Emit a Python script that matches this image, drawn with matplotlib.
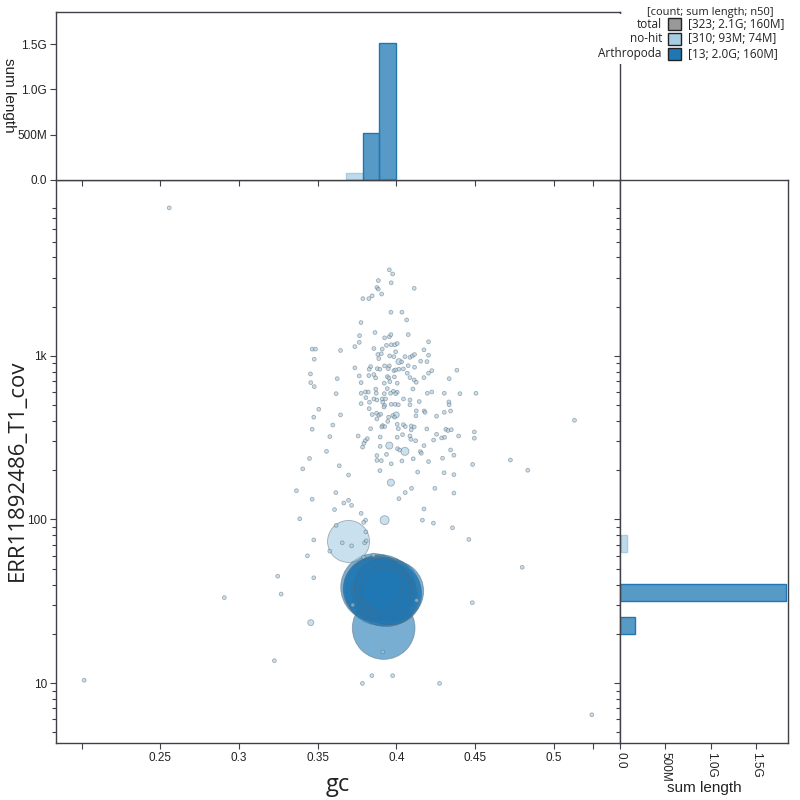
import numpy as np
import matplotlib
matplotlib.use("Agg")
import matplotlib.pyplot as plt
from matplotlib.ticker import FixedLocator, FixedFormatter, NullFormatter
from matplotlib.patches import Rectangle

plt.rcParams['font.family'] = ['Liberation Sans', 'DejaVu Sans']

# small no-hit contigs (drawn at minimum size)
nohit_gc = [
    0.3955, 0.3976, 0.3885, 0.3967, 0.3876, 0.3885, 0.4113, 0.3906, 0.3846, 0.3825,
    0.3787, 0.3965, 0.4035, 0.4065, 0.3775, 0.3864, 0.4075, 0.3766, 0.3925, 0.3955,
    0.3965, 0.3764, 0.3736, 0.4204, 0.3937, 0.3967, 0.3990, 0.4005, 0.3910, 0.3857,
    0.3904, 0.3465, 0.3486, 0.3645, 0.4175, 0.3995, 0.3882, 0.3957, 0.3984, 0.4054,
    0.4086, 0.4101, 0.4115, 0.4204, 0.3478, 0.4033, 0.3888, 0.4154, 0.4194, 0.4075,
    0.3736, 0.3836, 0.3827, 0.3878, 0.3895, 0.3925, 0.3955, 0.3948, 0.3984, 0.3995,
    0.4016, 0.4044, 0.4115, 0.4225, 0.4384, 0.3764, 0.3825, 0.3857, 0.3868, 0.3942,
    0.3952, 0.3987, 0.4069, 0.4086, 0.4175, 0.4204, 0.3454, 0.3624, 0.4335, 0.3456,
    0.3478, 0.3776, 0.3923, 0.3958, 0.4005, 0.4113, 0.4126, 0.3869, 0.3942, 0.3980,
    0.4005, 0.3995, 0.3963, 0.3923, 0.3872, 0.3804, 0.3821, 0.3776, 0.3617, 0.4105,
    0.4196, 0.4225, 0.4304, 0.4403, 0.4505, 0.3806, 0.3857, 0.3829, 0.3876, 0.3910,
    0.3931, 0.3913, 0.3925, 0.3921, 0.3967, 0.3992, 0.4012, 0.4045, 0.4086, 0.4086,
    0.4145, 0.3776, 0.3827, 0.3507, 0.4333, 0.4335, 0.4344, 0.4304, 0.4176, 0.4182,
    0.4126, 0.4124, 0.4255, 0.3846, 0.3874, 0.3888, 0.3900, 0.3876, 0.3950, 0.3977,
    0.3988, 0.3475, 0.3645, 0.5131, 0.3945, 0.4005, 0.4044, 0.4056, 0.4094, 0.4113,
    0.3912, 0.3925, 0.3907, 0.3596, 0.3465, 0.3836, 0.4012, 0.4094, 0.4193, 0.4314,
    0.4327, 0.4349, 0.4495, 0.3897, 0.3815, 0.3802, 0.3793, 0.3757, 0.3577, 0.4005,
    0.4039, 0.4086, 0.4092, 0.4122, 0.4255, 0.4236, 0.4287, 0.4306, 0.4395, 0.4495,
    0.3785, 0.3897, 0.4007, 0.4020, 0.4175, 0.4152, 0.4158, 0.3556, 0.4344, 0.4365,
    0.3876, 0.3937, 0.4107, 0.4293, 0.4724, 0.3448, 0.3876, 0.3904, 0.3967, 0.4035,
    0.4204, 0.3637, 0.4484, 0.3405, 0.3895, 0.4135, 0.4303, 0.4834, 0.3696, 0.4365,
    0.3365, 0.3465, 0.3615, 0.3666, 0.3696, 0.3715, 0.3607, 0.3776, 0.4056, 0.4096,
    0.4016, 0.4244, 0.4365, 0.4175, 0.3386, 0.3804, 0.3792, 0.4165, 0.4235, 0.4356,
    0.3617, 0.3475, 0.3656, 0.3715, 0.3798, 0.3808, 0.3806, 0.3577, 0.3435, 0.3791,
    0.3855, 0.4460, 0.4799, 0.3246, 0.3475, 0.3268, 0.4482, 0.3723, 0.4128, 0.3225,
    0.3914, 0.3844, 0.3976, 0.3784, 0.4274, 0.5241, 0.2557, 0.2017, 0.2907,
]
nohit_cov = [
    3360, 3170, 2890, 2800, 2620, 2560, 2590, 2390, 2330, 2240,
    2240, 1850, 1850, 1660, 1600, 1390, 1350, 1330, 1290, 1310,
    1350, 1210, 1140, 1220, 1160, 1170, 1170, 1190, 1100, 1110,
    1030, 1100, 1100, 1080, 1090, 1060, 1020, 1000, 990, 990,
    980, 1000, 1020, 1010, 955, 919, 963, 928, 923, 872,
    845, 860, 829, 836, 829, 869, 869, 836, 813, 821,
    829, 833, 853, 813, 818, 755, 758, 769, 734, 747,
    734, 744, 784, 737, 737, 784, 776, 726, 726, 687,
    649, 687, 681, 696, 681, 713, 690, 626, 631, 608,
    600, 588, 591, 588, 591, 602, 602, 591, 588, 628,
    591, 602, 591, 588, 591, 556, 546, 521, 538, 546,
    546, 521, 499, 487, 506, 506, 503, 546, 538, 503,
    526, 511, 476, 472, 523, 503, 461, 452, 461, 452,
    461, 430, 428, 438, 446, 434, 440, 412, 422, 432,
    422, 422, 436, 404, 398, 382, 380, 370, 373, 368,
    375, 370, 368, 378, 356, 359, 359, 353, 358, 356,
    350, 354, 343, 319, 312, 303, 292, 324, 321, 318,
    330, 324, 309, 303, 332, 306, 315, 318, 324, 314,
    277, 280, 271, 266, 283, 260, 254, 261, 266, 247,
    246, 250, 235, 237, 231, 236, 230, 229, 219, 228,
    226, 213, 217, 204, 199, 195, 193, 200, 187, 188,
    150, 133, 146, 126, 131, 122, 115, 109, 146, 155,
    134, 155, 145, 116, 101, 99, 96, 99, 95, 89,
    92, 75, 72, 69, 72, 74, 84, 64, 60, 59,
    60.5, 75.5, 51, 45, 44, 35, 31, 30, 32, 13.7,
    15.5, 11.1, 11.1, 9.95, 9.95, 6.4, 8040, 10.4, 33.3,
]

# larger no-hit contigs
nohit_big_gc = [0.3696, 0.3925, 0.4054, 0.3955, 0.3965, 0.3999, 0.4016, 0.3456]
nohit_big_cov = [73.4, 99, 261, 283, 168, 436, 923, 23.4]
nohit_big_len = [74e6, 3.4e6, 2.7e6, 2.1e6, 2.1e6, 1.5e6, 1.5e6, 1.5e6]

# Arthropoda contigs
arth_gc = [0.3900, 0.3935, 0.3860, 0.3870, 0.3919, 0.3965, 0.3980,
           0.3855, 0.3920, 0.3950, 0.3910, 0.3940, 0.3900]
arth_cov = [37, 36, 38.5, 37.5, 21.7, 35, 36.5, 38, 37, 34, 39, 36, 38]
arth_len = [210e6, 200e6, 190e6, 180e6, 165e6, 160e6, 155e6,
            150e6, 145e6, 140e6, 130e6, 95e6, 80e6]

# gc histogram (sum length per bin)
gc_bin_left = [0.3680, 0.3785, 0.3890]
gc_bin_width = 0.0105
gc_hist_nohit = [77e6, 4e6, 6e6]
gc_hist_arth = [0, 520e6, 1510e6]

# coverage histogram (sum length per bin)
cov_bin_low = [20.0, 31.7, 63.4]
cov_bin_high = [25.3, 40.3, 80.4]
cov_hist_nohit = [2e6, 3e6, 82e6]
cov_hist_arth = [165e6, 1835e6, 0]

legend_names = ['total', 'no-hit', 'Arthropoda']
legend_stats = ['[323; 2.1G; 160M]', '[310; 93M; 74M]', '[13; 2.0G; 160M]']

NOHIT = '#a6cee3'
ARTH = '#1f78b4'
AXC = '#404048'
LABFONT = ['Open Sans', 'DejaVu Sans']


def radius_px(length):
    return max(1.9, 21 * np.sqrt(length / 74e6))


def size_pt(length):
    return (2 * radius_px(length) * 0.72) ** 2


fig = plt.figure(figsize=(8, 8), dpi=100)
ax = fig.add_axes([0.07, 0.07125, 0.705, 0.70375])
ax_top = fig.add_axes([0.07, 0.775, 0.705, 0.21])
ax_right = fig.add_axes([0.775, 0.07125, 0.21, 0.70375])

# scatter, biggest first
pts = []
for g, c in zip(nohit_gc, nohit_cov):
    pts.append((g, c, 5e4, NOHIT))
for g, c, l in zip(nohit_big_gc, nohit_big_cov, nohit_big_len):
    pts.append((g, c, l, NOHIT))
for g, c, l in zip(arth_gc, arth_cov, arth_len):
    pts.append((g, c, l, ARTH))
pts.sort(key=lambda p: -p[2])
xs = [p[0] for p in pts]
ys = [p[1] for p in pts]
ss = [size_pt(p[2]) for p in pts]
fc = [matplotlib.colors.to_rgba(p[3], 0.6) for p in pts]
ec = [(0.35, 0.4, 0.45, 0.5) for p in pts]
ax.scatter(xs, ys, s=ss, c=fc, edgecolors=ec, linewidths=0.6, zorder=3)

xlim = (0.1838, 0.542)
ylim = (4.3, 11900)
ax.set_xlim(xlim)
ax.set_yscale('log')
ax.set_ylim(ylim)

minor_y = [5, 6, 7, 8, 9, 20, 30, 40, 50, 60, 70, 80, 90,
           200, 300, 400, 500, 600, 700, 800, 900,
           2000, 3000, 4000, 5000, 6000, 7000, 8000]
xticks = [0.2, 0.25, 0.3, 0.35, 0.4, 0.45, 0.5, 0.525]
xlabels = ['', '0.25', '0.3', '0.35', '0.4', '0.45', '0.5', '']

for a in (ax, ax_top, ax_right):
    for sp in a.spines.values():
        sp.set_color(AXC)
        sp.set_linewidth(1.0)
    a.tick_params(which='both', direction='out', color=AXC, labelsize=8.5,
                  labelcolor='#222222', length=4, width=0.8, pad=2.5)

ax.xaxis.set_major_locator(FixedLocator(xticks))
ax.xaxis.set_major_formatter(FixedFormatter(xlabels))
ax.yaxis.set_major_locator(FixedLocator([10, 100, 1000]))
ax.yaxis.set_major_formatter(FixedFormatter(['10', '100', '1k']))
ax.yaxis.set_minor_locator(FixedLocator(minor_y))
ax.yaxis.set_minor_formatter(NullFormatter())
ax.tick_params(which='minor', length=3)

# top histogram
ax_top.bar(gc_bin_left, gc_hist_nohit, width=gc_bin_width, align='edge',
           color=matplotlib.colors.to_rgba(NOHIT, 0.75), edgecolor=NOHIT, linewidth=1)
ax_top.bar(gc_bin_left, gc_hist_arth, width=gc_bin_width, align='edge',
           color=matplotlib.colors.to_rgba(ARTH, 0.75), edgecolor=ARTH, linewidth=1)
ax_top.set_xlim(xlim)
ax_top.set_ylim(0, 1.854e9)
ax_top.xaxis.set_major_locator(FixedLocator(xticks))
ax_top.xaxis.set_major_formatter(NullFormatter())
ax_top.yaxis.set_major_locator(FixedLocator([0, 5e8, 1e9, 1.5e9]))
ax_top.yaxis.set_major_formatter(FixedFormatter(['0.0', '500M', '1.0G', '1.5G']))

# right histogram
heights = [h - l for l, h in zip(cov_bin_low, cov_bin_high)]
ax_right.barh(cov_bin_low, cov_hist_nohit, height=heights, align='edge',
              color=matplotlib.colors.to_rgba(NOHIT, 0.75), edgecolor=NOHIT, linewidth=1)
ax_right.barh(cov_bin_low, cov_hist_arth, height=heights, align='edge',
              color=matplotlib.colors.to_rgba(ARTH, 0.75), edgecolor=ARTH, linewidth=1)
ax_right.set_yscale('log')
ax_right.set_ylim(ylim)
ax_right.set_xlim(0, 1.854e9)
ax_right.yaxis.set_major_locator(FixedLocator([10, 100, 1000]))
ax_right.yaxis.set_major_formatter(NullFormatter())
ax_right.yaxis.set_minor_locator(FixedLocator(minor_y))
ax_right.yaxis.set_minor_formatter(NullFormatter())
ax_right.tick_params(which='minor', length=3)
ax_right.xaxis.set_major_locator(FixedLocator([0, 5e8, 1e9, 1.5e9]))
ax_right.xaxis.set_major_formatter(FixedFormatter(['0.0', '500M', '1.0G', '1.5G']))
ax_right.tick_params(axis='x', labelrotation=-90)

# axis titles
fig.text(338 / 800, 1 - 785 / 800, 'gc', family=LABFONT, fontsize=17,
         ha='center', va='center', color='#222222')
fig.text(17 / 800, 1 - 470 / 800, 'ERR11892486_T1_cov', family=LABFONT, fontsize=16,
         ha='center', va='center', rotation=90, color='#222222')
fig.text(9 / 800, 1 - 95 / 800, 'sum length', fontsize=11,
         ha='center', va='center', rotation=-90, color='#222222')
fig.text(704 / 800, 1 - 788 / 800, 'sum length', fontsize=11,
         ha='center', va='center', color='#222222')

# legend
fig.patches.append(Rectangle((598 / 800, 1 - 64 / 800), 202 / 800, 50 / 800,
                             transform=fig.transFigure, facecolor='white',
                             edgecolor='none', zorder=5))
fig.text(774 / 800, 1 - 12 / 800, '[count; sum length; n50]', family=LABFONT,
         fontsize=8, ha='right', va='center', color='#222222', zorder=6)
swatch = ['#999999', NOHIT, ARTH]
for i, (name, stat, col) in enumerate(zip(legend_names, legend_stats, swatch)):
    yc = 24 + 15 * i
    fig.text(662 / 800, 1 - yc / 800, name, family=LABFONT, fontsize=8.5,
             ha='right', va='center', color='#222222', zorder=6)
    fig.patches.append(Rectangle((668 / 800, 1 - (yc + 6) / 800), 13 / 800, 12 / 800,
                                 transform=fig.transFigure, facecolor=col,
                                 edgecolor='#222222', linewidth=1, zorder=6))
    fig.text(688 / 800, 1 - yc / 800, stat, family=LABFONT, fontsize=8.5,
             ha='left', va='center', color='#222222', zorder=6)

fig.savefig('out.png', dpi=100, facecolor='white')
